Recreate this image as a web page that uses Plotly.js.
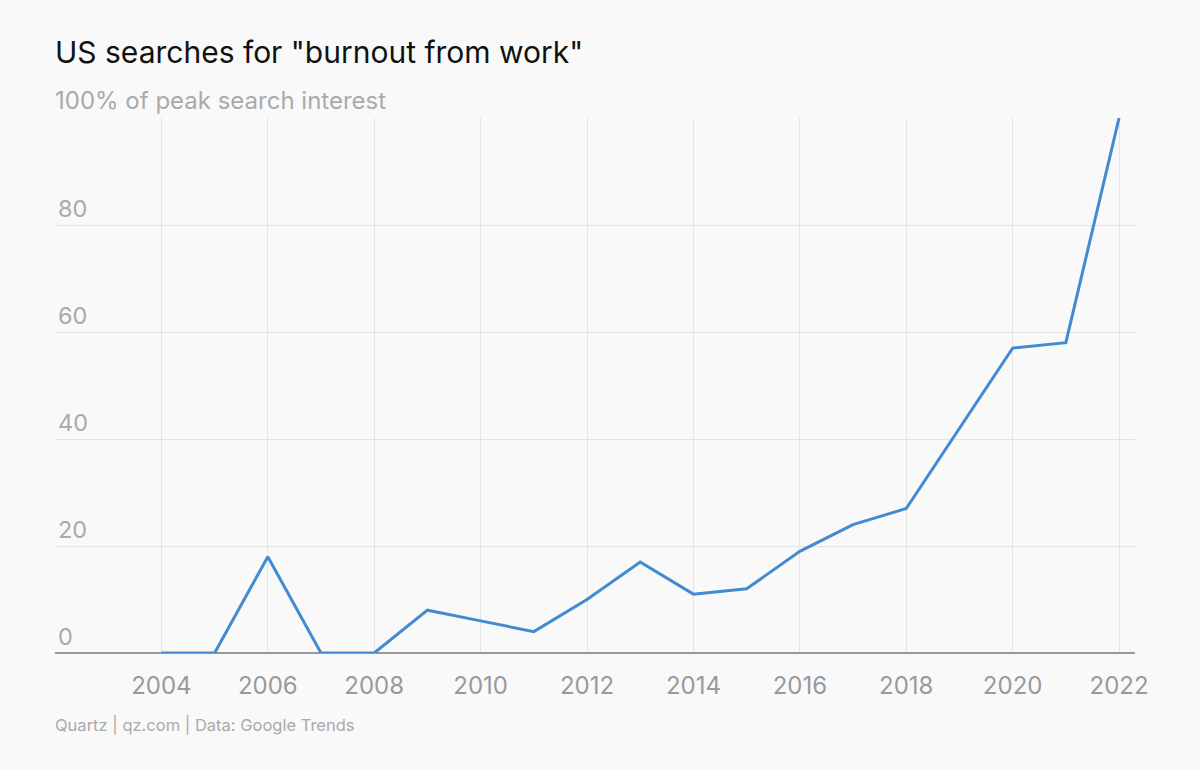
<!DOCTYPE html>
<html>
<head>
<meta charset="utf-8">
<script src="https://cdn.plot.ly/plotly-3.0.1.min.js"></script>
<style>html,body{margin:0;padding:0;background:#f9f9f9;}#chart{width:1200px;height:770px;}</style>
</head>
<body>
<div id="chart"></div>
<script>
const years = [2004,2005,2006,2007,2008,2009,2010,2011,2012,2013,2014,2015,2016,2017,2018,2019,2020,2021,2022];
const interest = [0,0,18,0,0,8,6,4,10,17,11,12,19,24,27,42,57,58,100];
const yTickVals = [0,20,40,60,80,100];
const yTickText = ['0','20','40','60','80','100% of peak search interest'];
const xTickVals = [2004,2006,2008,2010,2012,2014,2016,2018,2020,2022];

const FONT = 'Inter, "Liberation Sans", sans-serif';
const trace = {
  x: years, y: interest, type: 'scatter', mode: 'lines',
  line: {color: '#428bd1', width: 3},
  hoverinfo: 'x+y'
};
const lastIdx = yTickVals.length - 1;
const layout = {
  width: 1200, height: 770,
  paper_bgcolor: '#f9f9f9', plot_bgcolor: '#f9f9f9',
  margin: {l: 55, r: 65, t: 118, b: 117},
  font: {family: FONT, color: '#999'},
  title: {text: 'US searches for "burnout from work"', x: 55/1200, xanchor: 'left', y: 1-52/770, yanchor: 'middle',
          font: {size: 30, color: '#111', family: FONT}},
  xaxis: {
    range: [2002, 2022.3], tickvals: xTickVals, ticktext: xTickVals.map(String),
    showgrid: true, gridcolor: '#e4e4e4', gridwidth: 1,
    zeroline: false, showline: false,
    ticks: 'outside', tickcolor: 'rgba(0,0,0,0)', ticklen: 11,
    tickfont: {size: 24, color: '#999'}, fixedrange: true
  },
  yaxis: {
    range: [0, 100], tickvals: yTickVals,
    ticktext: yTickText.map((t, i) => i === lastIdx ? '' : t),
    ticklabelposition: 'inside top',
    showgrid: true, gridcolor: '#e4e4e4', gridwidth: 1,
    zeroline: true, zerolinecolor: '#999', zerolinewidth: 2,
    showline: false, ticks: '',
    tickfont: {size: 23.5, color: '#aaa'}, fixedrange: true
  },
  showlegend: false,
  annotations: [{
    text: yTickText[lastIdx], xref: 'paper', yref: 'y',
    x: 0, y: yTickVals[lastIdx], xanchor: 'left', yanchor: 'bottom', yshift: 1, xshift: -2,
    showarrow: false, font: {size: 24, color: '#aaa', family: FONT}
  }, {
    text: 'Quartz | qz.com | Data: Google Trends', xref: 'paper', yref: 'paper',
    x: 0, y: -(725-653)/535, xanchor: 'left', yanchor: 'middle', showarrow: false, xshift: -2,
    font: {size: 16.5, color: '#aaa'}
  }]
};
Plotly.newPlot('chart', [trace], layout, {displayModeBar: false, staticPlot: true});
</script>
</body>
</html>
